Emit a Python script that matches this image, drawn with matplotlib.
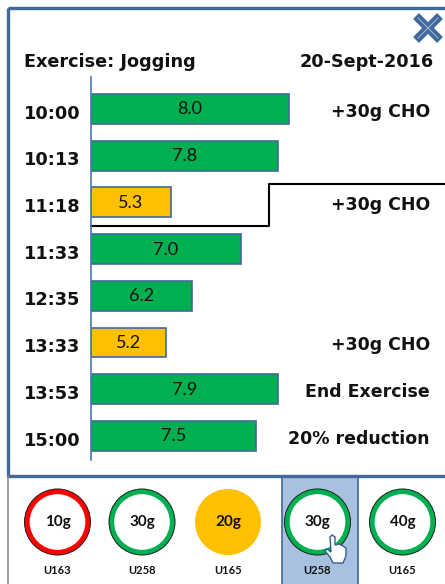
import matplotlib
matplotlib.use('Agg')
import matplotlib.pyplot as plt
from matplotlib.patches import Circle, Polygon, Rectangle

plt.rcParams['font.family'] = ['Lato', 'DejaVu Sans']

times = ['10:00', '10:13', '11:18', '11:33', '12:35', '13:33', '13:53', '15:00']
values = [8.0, 7.8, 5.3, 7.0, 6.2, 5.2, 7.9, 7.5]
bar_lengths = [198, 187, 80, 150, 101, 75, 187, 165]
bar_colors = ['#00B050', '#00B050', '#FFC000', '#00B050', '#00B050', '#FFC000', '#00B050', '#00B050']
notes = ['+30g CHO', '', '+30g CHO', '', '', '+30g CHO', 'End Exercise', '20% reduction']

doses = ['10g', '30g', '20g', '30g', '40g']
units = ['U163', 'U258', 'U165', 'U258', 'U165']
dose_colors = ['#FF0000', '#00B050', '#FFC000', '#00B050', '#00B050']
dose_filled = [False, False, True, False, False]

BLUE = '#41689A'
WIDE = 'DejaVu Sans'
W, H = 445, 584

fig = plt.figure(figsize=(W / 100, H / 100), dpi=100)

# whole figure in pixel coords for the frame and the buttons
bg = fig.add_axes([0, 0, 1, 1])
bg.set_xlim(0, W)
bg.set_ylim(H, 0)
bg.axis('off')

bg.add_patch(Rectangle((282, 476), 76, 110, fc='#A9C1E0', ec=BLUE, lw=1.2))
bg.plot([8, 8], [476, 584], color='#8C8C8C', lw=1.2)
bg.add_patch(Rectangle((8, 8), 445, 468, fc='none', ec=BLUE, lw=2.4))

# close button
for x0, y0, x1, y1 in [(416, 16, 440, 40), (416, 40, 440, 16)]:
    bg.plot([x0, x1], [y0, y1], color=BLUE, lw=6, solid_capstyle='butt')
for x0, y0, x1, y1 in [(418, 18, 438, 38), (418, 38, 438, 18)]:
    bg.plot([x0, x1], [y0, y1], color='#9DB4D2', lw=0.8)

bg.text(24, 62, 'Exercise: Jogging', fontsize=12.7, fontweight='bold', family=WIDE, va='center', ha='left', color='#111111')
bg.text(434, 62, '20-Sept-2016', fontsize=12.7, fontweight='bold', family=WIDE, va='center', ha='right', color='#111111')

# chart area runs from x=91 to the right edge, y=77 to y=460
ax = fig.add_axes([91 / W, 1 - 460 / H, (W - 91) / W, (460 - 77) / H])
ax.patch.set_alpha(0)
ypos = list(range(len(values)))
ax.barh(ypos, bar_lengths, height=0.64, color=bar_colors, edgecolor=BLUE, linewidth=1.2)
ax.set_xlim(0, W - 91)
ax.set_ylim(7.516, -0.685)
for s in ['top', 'right', 'bottom']:
    ax.spines[s].set_visible(False)
ax.spines['left'].set_color('#4A76B0')
ax.spines['left'].set_linewidth(1.2)
ax.set_xticks([])
ax.set_yticks([])

for y, v, l in zip(ypos, values, bar_lengths):
    ax.text(l / 2, y + 0.01, f'{v:.1f}', ha='center', va='center', fontsize=13, color='#111111')

for y, t in zip(ypos, times):
    ax.text(-39, y + 0.1, t, ha='center', va='center', fontsize=12.8, fontweight='bold', family=WIDE, color='#111111')

for y, n in zip(ypos, notes):
    if n:
        ax.text(339, y + 0.06, n, ha='right', va='center', fontsize=12.5, fontweight='bold', family=WIDE, color='#111111')

# step line around the 11:18 row
bg.plot([91, 269, 269, W], [226, 226, 184, 184], color='black', lw=1.5, zorder=5)

# dose buttons
cx = [57.5, 142, 228, 317.5, 402.5]
for c, d, u, col, filled in zip(cx, doses, units, dose_colors, dose_filled):
    if filled:
        bg.add_patch(Circle((c, 522), 33, fc=col, ec='none'))
    else:
        bg.add_patch(Circle((c, 522), 30.5, fc='white', ec=col, lw=3.8))
        bg.add_patch(Circle((c, 522), 33, fc='none', ec='#222222', lw=0.7))
    bg.text(c, 522, d, ha='center', va='center', fontsize=11, fontweight='bold', color='#111111')
    bg.text(c, 571, u, ha='center', va='center', fontsize=8, fontweight='bold', color='#111111')

# hand cursor
hand = [(330, 537), (332, 535), (335, 537), (335, 545), (339, 544), (343, 546), (346, 548),
        (346, 556), (343, 563), (333, 563), (330, 557), (325, 551), (327, 549), (331, 552)]
bg.add_patch(Polygon(hand, closed=True, fc='white', ec='#2F5F8F', lw=1.0, zorder=6))

fig.savefig('out.png', dpi=100)
